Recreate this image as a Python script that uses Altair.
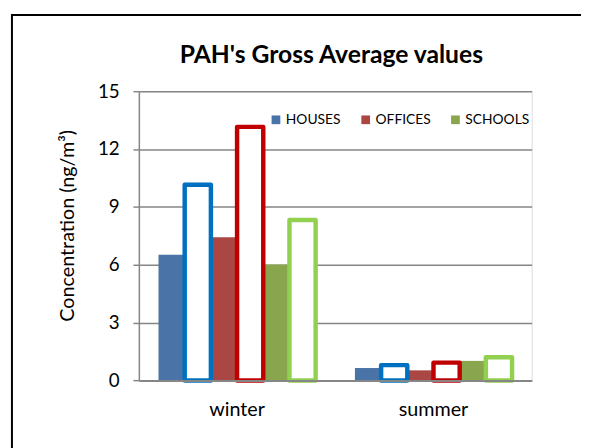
import altair as alt
import pandas as pd

seasons = ["winter", "summer"]
groups = ["HOUSES", "OFFICES", "SCHOOLS"]
houses_filled = [6.52, 0.65]
houses_outline = [10.15, 0.80]
offices_filled = [7.43, 0.53]
offices_outline = [13.15, 0.93]
schools_filled = [6.02, 1.02]
schools_outline = [8.32, 1.21]

fill_colors = ["#4A73A8", "#AA4643", "#89A54E"]
outline_colors = ["#0070C0", "#C00000", "#92D050"]
y_ticks = [0, 3, 6, 9, 12, 15]

series = {
    ("HOUSES", "filled"): houses_filled,
    ("HOUSES", "outline"): houses_outline,
    ("OFFICES", "filled"): offices_filled,
    ("OFFICES", "outline"): offices_outline,
    ("SCHOOLS", "filled"): schools_filled,
    ("SCHOOLS", "outline"): schools_outline,
}
keys = [f"{g}_{k}" for g in groups for k in ["filled", "outline"]]

rows = []
for (g, k), vals in series.items():
    for s, v in zip(seasons, vals):
        rows.append({"season": s, "group": g, "kind": k, "key": f"{g}_{k}", "value": v})
df = pd.DataFrame(rows)

FONT = "Lato"

x_enc = alt.X(
    "season:N",
    sort=seasons,
    scale=alt.Scale(paddingInner=0.2, paddingOuter=0.1),
    axis=alt.Axis(
        title=None, labelAngle=0, ticks=False, grid=False,
        domainColor="#868686", domainWidth=2, zindex=1,
        labelFontSize=20, labelColor="#000000", labelFont=FONT,
        labelBaseline="alphabetic", labelPadding=35,
    ),
)
xo_enc = alt.XOffset("key:N", scale=alt.Scale(domain=keys, paddingInner=0, paddingOuter=0))
y_enc = alt.Y(
    "value:Q",
    scale=alt.Scale(domain=[0, 15], nice=False),
    axis=alt.Axis(
        values=y_ticks, title="Concentration (ng/m³)",
        grid=True, gridColor="#868686", gridWidth=1.5,
        domainColor="#868686", domainWidth=1.5,
        tickColor="#868686", tickWidth=1.5, tickSize=6,
        labelFontSize=19, labelColor="#000000", labelFont=FONT, labelPadding=14,
        titleFontSize=20, titleFont=FONT, titleFontWeight="normal", titleColor="#000000",
        titleX=-72, titleY=136, titleAngle=270, titleAlign="center", titleBaseline="middle",
        zindex=0,
    ),
)

base = alt.Chart(df)

filled = base.transform_filter(alt.datum.kind == "filled").mark_bar(strokeWidth=0).encode(
    x=x_enc, xOffset=xo_enc, y=y_enc,
    color=alt.Color(
        "group:N",
        scale=alt.Scale(domain=groups, range=fill_colors),
        legend=alt.Legend(
            title=None, orient="none", direction="horizontal",
            legendX=132, legendY=22, padding=0,
            symbolType="square", symbolSize=78, symbolStrokeWidth=0,
            labelFontSize=14, labelFont=FONT, labelColor="#000000",
            labelOffset=3, columnPadding=9, gridAlign="all",
        ),
    ),
)

outline = base.transform_filter(alt.datum.kind == "outline").mark_bar(
    fill="white", strokeWidth=4.5, strokeJoin="round"
).encode(
    x=x_enc, xOffset=xo_enc, y=y_enc,
    stroke=alt.Stroke("group:N", scale=alt.Scale(domain=groups, range=outline_colors), legend=None),
)

frame = alt.Chart(pd.DataFrame({"a": [0]})).mark_rect(
    fill=None, stroke="#000000", strokeWidth=2, clip=False
).encode(
    x=alt.value(-128.7), x2=alt.value(480), y=alt.value(-77.3), y2=alt.value(380)
)

chart = alt.layer(frame, filled, outline).properties(
    width=398.3,
    height=293.4,
    autosize=alt.AutoSizeParams(type="none"),
    padding={"left": 132.7, "top": 81.3, "right": 50, "bottom": 65.3},
    title=alt.TitleParams(
        "PAH's Gross Average values", font=FONT, fontSize=25, fontWeight="bold",
        color="#000000", anchor="middle", dx=-4, offset=-75, baseline="alphabetic",
    ),
).configure_view(
    stroke="#5B87C5", strokeWidth=2
).configure(background="white")

chart.save("out.html", embed_options={"renderer": "svg", "actions": False})
